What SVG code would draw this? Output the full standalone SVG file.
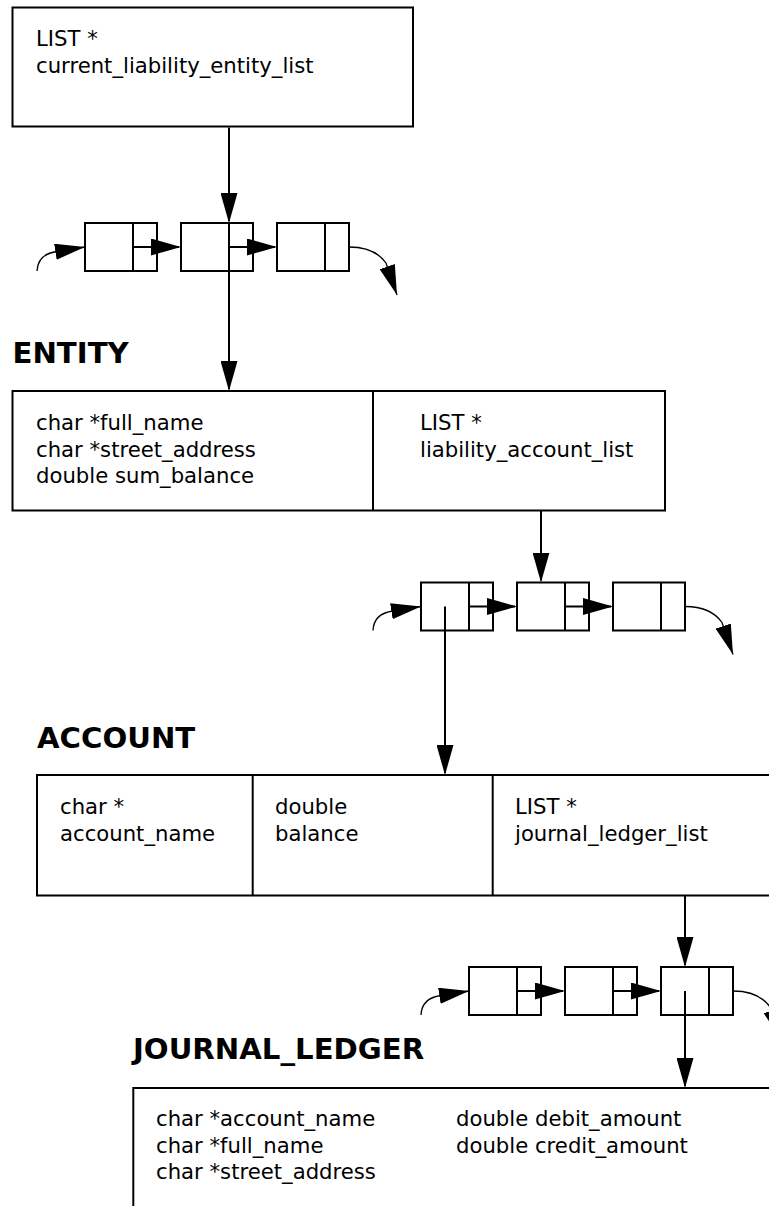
<svg xmlns="http://www.w3.org/2000/svg" width="769" height="1206" viewBox="0 0 769 1206">
<style>
.box{fill:#fff;stroke:#000;stroke-width:2}
.div{stroke:#000;stroke-width:2;fill:none}
.t{font-family:"DejaVu Sans","Liberation Sans",sans-serif;font-size:21.2px;fill:#000}
.h{font-family:"DejaVu Sans","Liberation Sans",sans-serif;font-size:29.2px;font-weight:bold;fill:#000}
.ln{stroke:#000;stroke-width:2;fill:none;marker-end:url(#ah)}
.cv{stroke:#000;stroke-width:1.3;fill:none;marker-end:url(#ahc)}
</style>
<defs>
<marker id="ah" markerUnits="userSpaceOnUse" markerWidth="30" markerHeight="17" refX="28" refY="8.5" orient="auto" viewBox="0 0 30 17"><path d="M0,0 L30,8.5 L0,17 z" fill="#000"/></marker>
<marker id="ahc" markerUnits="userSpaceOnUse" markerWidth="30" markerHeight="16" refX="30" refY="8" orient="auto" viewBox="0 0 30 16"><path d="M0,0 L30,8 L0,16 z" fill="#000"/></marker>
</defs>
<rect width="769" height="1206" fill="#fff"/>

<g id="root-list-pointer">
<rect class="box" x="12.5" y="7.5" width="400.5" height="119"/>
<text class="t" x="36" y="46">LIST *</text>
<text class="t" x="36" y="72.5">current_liability_entity_list</text>
</g>

<g id="list1-node1"><rect class="box" x="85" y="223" width="72" height="48"/><line class="div" x1="133" y1="223" x2="133" y2="271"/></g>
<g id="list1-node2"><rect class="box" x="181" y="223" width="72" height="48"/><line class="div" x1="229" y1="223" x2="229" y2="271"/></g>
<g id="list1-node3"><rect class="box" x="277" y="223" width="72" height="48"/><line class="div" x1="325" y1="223" x2="325" y2="271"/></g>

<g id="entity">
<text class="h" x="12.5" y="363">ENTITY</text>
<rect class="box" x="12.5" y="391" width="652.5" height="119.5"/>
<line class="div" x1="373" y1="391" x2="373" y2="510.5"/>
<text class="t" x="36" y="430">char *full_name</text>
<text class="t" x="36" y="456.5">char *street_address</text>
<text class="t" x="36" y="483">double sum_balance</text>
<text class="t" x="420" y="430">LIST *</text>
<text class="t" x="420" y="456.5">liability_account_list</text>
</g>

<g id="list2-node1"><rect class="box" x="421" y="582.5" width="72" height="48"/><line class="div" x1="469" y1="582.5" x2="469" y2="630.5"/></g>
<g id="list2-node2"><rect class="box" x="517" y="582.5" width="72" height="48"/><line class="div" x1="565" y1="582.5" x2="565" y2="630.5"/></g>
<g id="list2-node3"><rect class="box" x="613" y="582.5" width="72" height="48"/><line class="div" x1="661" y1="582.5" x2="661" y2="630.5"/></g>

<g id="account">
<text class="h" x="37" y="748">ACCOUNT</text>
<rect class="box" x="37" y="775" width="760" height="120.5"/>
<line class="div" x1="252.7" y1="775" x2="252.7" y2="895.5"/>
<line class="div" x1="492.7" y1="775" x2="492.7" y2="895.5"/>
<text class="t" x="60" y="814">char *</text>
<text class="t" x="60" y="840.5">account_name</text>
<text class="t" x="275" y="814">double</text>
<text class="t" x="275" y="840.5">balance</text>
<text class="t" x="515" y="814">LIST *</text>
<text class="t" x="515" y="840.5">journal_ledger_list</text>
</g>

<g id="list3-node1"><rect class="box" x="469" y="967" width="72" height="48"/><line class="div" x1="517" y1="967" x2="517" y2="1015"/></g>
<g id="list3-node2"><rect class="box" x="565" y="967" width="72" height="48"/><line class="div" x1="613" y1="967" x2="613" y2="1015"/></g>
<g id="list3-node3"><rect class="box" x="661" y="967" width="72" height="48"/><line class="div" x1="709" y1="967" x2="709" y2="1015"/></g>

<g id="journal-ledger">
<text class="h" x="133" y="1059">JOURNAL_LEDGER</text>
<rect class="box" x="133.3" y="1088" width="700" height="200"/>
<text class="t" x="156" y="1126">char *account_name</text>
<text class="t" x="156" y="1152.5">char *full_name</text>
<text class="t" x="156" y="1179">char *street_address</text>
<text class="t" x="456" y="1126">double debit_amount</text>
<text class="t" x="456" y="1152.5">double credit_amount</text>
</g>

<g id="connectors">
<path class="ln" d="M229,127.5 V221"/>
<path class="ln" d="M229,247 V389"/>
<path class="ln" d="M133,247 H179"/>
<path class="ln" d="M229,247 H275"/>
<path class="cv" d="M37,271 C37.5,259 46,253 57,251.5 L85,247"/>
<path class="cv" d="M349,247 C366,247 379,253 386,263 L397,295"/>

<path class="ln" d="M541,511 V580.5"/>
<path class="ln" d="M469,606.5 H515"/>
<path class="ln" d="M565,606.5 H611"/>
<path class="ln" d="M445,606.5 V773"/>
<path class="cv" d="M373,630.5 C373.5,618.5 382,612.5 393,611 L421,606.5"/>
<path class="cv" d="M685,606.5 C702,606.5 715,612.5 722,622.5 L733,654.5"/>

<path class="ln" d="M685,896 V965"/>
<path class="ln" d="M517,991 H563"/>
<path class="ln" d="M613,991 H659"/>
<path class="ln" d="M685,991 V1086"/>
<path class="cv" d="M421,1015 C421.5,1003 430,997 441,995.5 L469,991"/>
<path class="cv" d="M733,991 C750,991 763,997 770,1007 L781,1039"/>
</g>
</svg>
